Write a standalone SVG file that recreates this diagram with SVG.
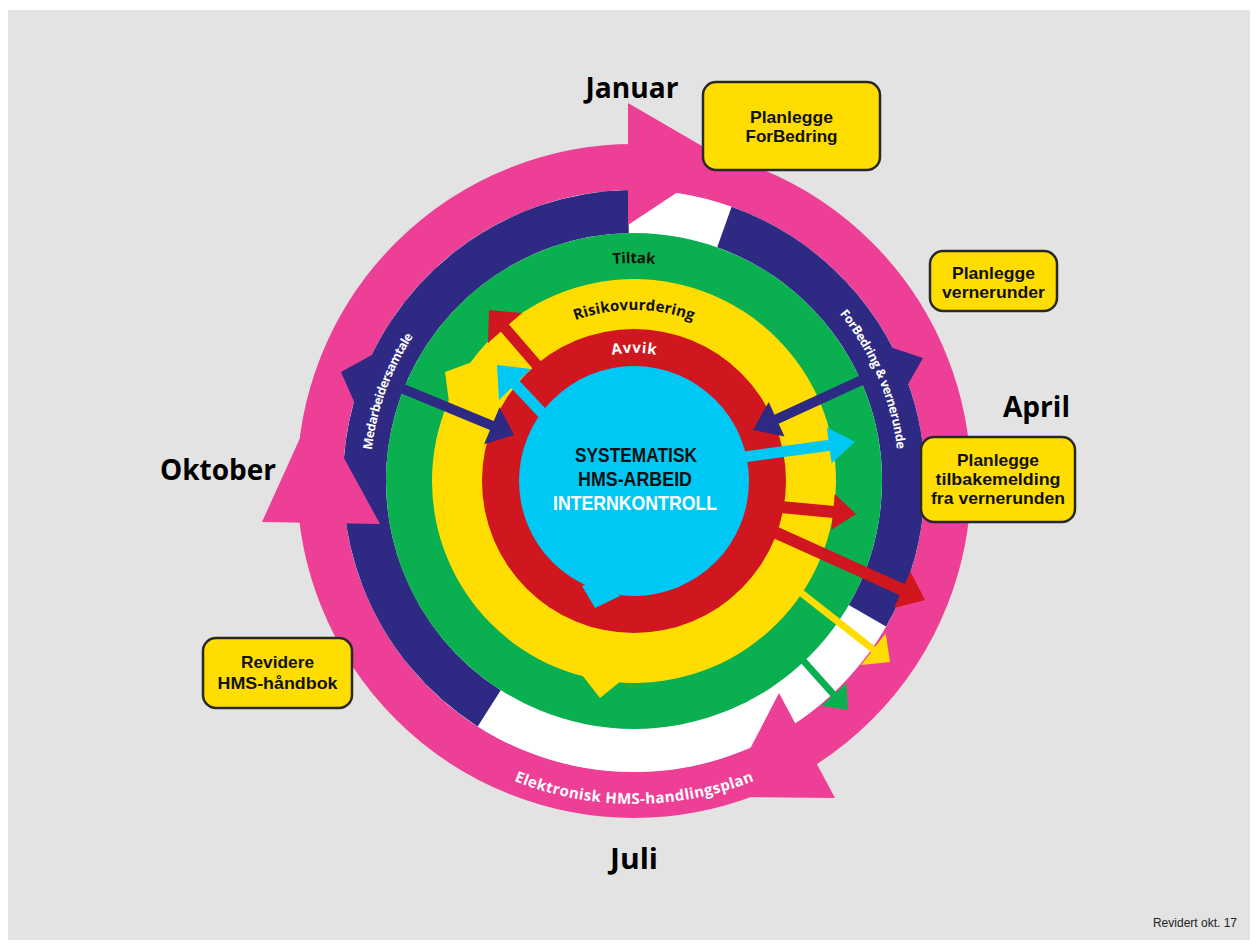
<svg xmlns="http://www.w3.org/2000/svg" width="1257" height="945" viewBox="0 0 1257 945">
<style>
.pk{fill:#ee3f96}
.nv{fill:#2e2a84}
.gr{fill:#0aaf4f}
.ye{fill:#ffdd00}
.rd{fill:#d0161e}
.cy{fill:#00c8f5}
.t{font-family:"Open Sans","DejaVu Sans",sans-serif;font-weight:700}
.u{font-family:"Liberation Sans",Arial,sans-serif;font-weight:700}
.big{font-size:28px;fill:#000;text-anchor:middle}
.box{fill:#ffdd00;stroke:#2a2826;stroke-width:2.5}
.bt{font-size:16.5px;fill:#111;text-anchor:middle}
.ring{font-size:15px;text-anchor:middle}
.small{font-size:12.5px;fill:#fff;text-anchor:middle}
.ctr{font-size:20.5px;text-anchor:middle}
</style>
<defs>
<path id="pTiltak" d="M493.9,314 A218,218 0 0 1 774.1,314"/>
<path id="pRisiko" d="M524.1,350 A171,171 0 0 1 743.9,350"/>
<path id="pAvvik" d="M551.7,382.9 A128,128 0 0 1 716.3,382.9"/>
<path id="pFor" d="M766.5,251.5 A265,265 0 0 1 891.1,545.1"/>
<path id="pMed" d="M381.5,558.2 A264,264 0 0 1 490.2,259.6"/>
<path id="pElek" d="M426.4,728.4 A323,323 0 0 0 841.6,728.4"/>
</defs>
<rect width="1257" height="945" fill="#ffffff"/>
<rect x="8" y="10" width="1242" height="930" fill="#e3e3e3"/>

<g id="ring-pink">
<circle cx="634" cy="481" r="314" fill="none" stroke="#ee3f96" stroke-width="46"/>
</g>
<g id="ring-navy">
<circle cx="634" cy="481" r="291" fill="#ffffff"/>
<path d="M724.4,227.1 A269.5,269.5 0 0 1 867.4,615.75" fill="none" stroke="#2e2a84" stroke-width="43"/>
<path d="M489.2,708.3 A269.5,269.5 0 0 1 628.36,211.56" fill="none" stroke="#2e2a84" stroke-width="43"/>
<polygon class="nv" points="356,406 341,372 379,351 390,370"/>
<polygon class="nv" points="890,347 923,358 907,386 880,375"/>
</g>
<g id="pink-arrowheads">
<polygon class="pk" points="628,103 726,160 628,225"/>
<polygon class="pk" points="262,522 315,405 380,524"/>
<polygon class="pk" points="779,693 835,798 725,797"/>
</g>
<g id="ring-green">
<circle class="gr" cx="634" cy="481" r="248"/>
</g>
<g id="ring-yellow">
<circle class="ye" cx="634" cy="481" r="202"/>
<polygon class="ye" points="449,402 445,372 475,361 470,390"/>
<polygon class="ye" points="621,681 600,698 582,675 600,668"/>
</g>
<g id="ring-red">
<circle class="rd" cx="634" cy="481" r="152"/>
</g>
<g id="center">
<circle class="cy" cx="634" cy="481" r="115"/>
<polygon class="cy" points="582,586 595,608 620,596 600,578"/>
</g>

<g id="connectors">
<line x1="401" y1="388" x2="493" y2="426" stroke="#2e2a84" stroke-width="10"/>
<polygon class="nv" points="514,435 499.5,407.3 484.1,444.3"/>
<line x1="862" y1="380" x2="776" y2="419.5" stroke="#2e2a84" stroke-width="10"/>
<polygon class="nv" points="753,430 768.7,401.9 784.5,436.5"/>
<line x1="700" y1="463" x2="830" y2="445.2" stroke="#00c8f5" stroke-width="11"/>
<polygon class="cy" points="855,441.8 826.8,427.5 831.6,463.2"/>
<line x1="560" y1="432" x2="514" y2="383" stroke="#00c8f5" stroke-width="11"/>
<polygon class="cy" points="497,365 531,369 499,400"/>
<line x1="548" y1="378" x2="504" y2="327" stroke="#d0161e" stroke-width="11"/>
<polygon class="rd" points="489,310 522,313 488,343"/>
<line x1="770" y1="506" x2="834" y2="512" stroke="#d0161e" stroke-width="12"/>
<polygon class="rd" points="856,514 834.8,494 831.4,529.8"/>
<line x1="770" y1="530" x2="903" y2="590" stroke="#d0161e" stroke-width="12"/>
<polygon class="rd" points="925,600 910.4,571.5 894,608"/>
<line x1="795" y1="588" x2="874" y2="650" stroke="#ffdd00" stroke-width="7"/>
<polygon class="ye" points="890,662 885.7,633.3 861.1,664.9"/>
<line x1="800" y1="657" x2="834" y2="695" stroke="#0aaf4f" stroke-width="7"/>
<polygon class="gr" points="848,710 846.5,683 821.3,705.8"/>
</g>

<g id="ring-labels">
<text class="t ring" fill="#111"><textPath href="#pTiltak" startOffset="50%" textLength="42">Tiltak</textPath></text>
<text class="t ring" fill="#111"><textPath href="#pRisiko" startOffset="50%" textLength="120">Risikovurdering</textPath></text>
<text class="t ring" fill="#fff"><textPath href="#pAvvik" startOffset="50%" textLength="44">Avvik</textPath></text>
<text class="t small"><textPath href="#pFor" startOffset="50%" textLength="149">ForBedring &amp; vernerunde</textPath></text>
<text class="t small"><textPath href="#pMed" startOffset="50%" textLength="122">Medarbeidersamtale</textPath></text>
<text class="t ring" fill="#fff"><textPath href="#pElek" startOffset="50%" textLength="246">Elektronisk HMS-handlingsplan</textPath></text>
</g>

<g id="center-text">
<text class="u ctr" x="636" y="462" fill="#111" textLength="122" lengthAdjust="spacingAndGlyphs">SYSTEMATISK</text>
<text class="u ctr" x="635" y="486" fill="#111" textLength="114" lengthAdjust="spacingAndGlyphs">HMS-ARBEID</text>
<text class="u ctr" x="635" y="510" fill="#fff" textLength="164" lengthAdjust="spacingAndGlyphs">INTERNKONTROLL</text>
</g>

<g id="months">
<text class="t big" x="632" y="98" textLength="93" lengthAdjust="spacingAndGlyphs">Januar</text>
<text class="t big" x="1036.5" y="417" textLength="67" lengthAdjust="spacingAndGlyphs">April</text>
<text class="t big" x="218" y="480" textLength="116" lengthAdjust="spacingAndGlyphs">Oktober</text>
<text class="t big" x="634" y="869" textLength="48" lengthAdjust="spacingAndGlyphs">Juli</text>
</g>

<g id="box-forbedring">
<rect class="box" x="703" y="82" width="177" height="88" rx="13"/>
<text class="u bt" x="791.5" y="123" textLength="83" lengthAdjust="spacingAndGlyphs">Planlegge</text>
<text class="u bt" x="791.5" y="142" textLength="92" lengthAdjust="spacingAndGlyphs">ForBedring</text>
</g>
<g id="box-vernerunder">
<rect class="box" x="930" y="251" width="127" height="60" rx="13"/>
<text class="u bt" x="993.5" y="279" textLength="83" lengthAdjust="spacingAndGlyphs">Planlegge</text>
<text class="u bt" x="993.5" y="298" textLength="103" lengthAdjust="spacingAndGlyphs">vernerunder</text>
</g>
<g id="box-tilbakemelding">
<rect class="box" x="921" y="437" width="154" height="85" rx="13"/>
<text class="u bt" x="998" y="466" textLength="82" lengthAdjust="spacingAndGlyphs">Planlegge</text>
<text class="u bt" x="998" y="485" textLength="125" lengthAdjust="spacingAndGlyphs">tilbakemelding</text>
<text class="u bt" x="998" y="504" textLength="134" lengthAdjust="spacingAndGlyphs">fra vernerunden</text>
</g>
<g id="box-handbok">
<rect class="box" x="203" y="638" width="149" height="70" rx="13"/>
<text class="u bt" x="277.5" y="668" textLength="73" lengthAdjust="spacingAndGlyphs">Revidere</text>
<text class="u bt" x="277.5" y="689" textLength="120" lengthAdjust="spacingAndGlyphs">HMS-håndbok</text>
</g>

<text x="1237" y="927" font-family="'Liberation Sans',Arial,sans-serif" font-size="12" fill="#222" text-anchor="end">Revidert okt. 17</text>
</svg>
